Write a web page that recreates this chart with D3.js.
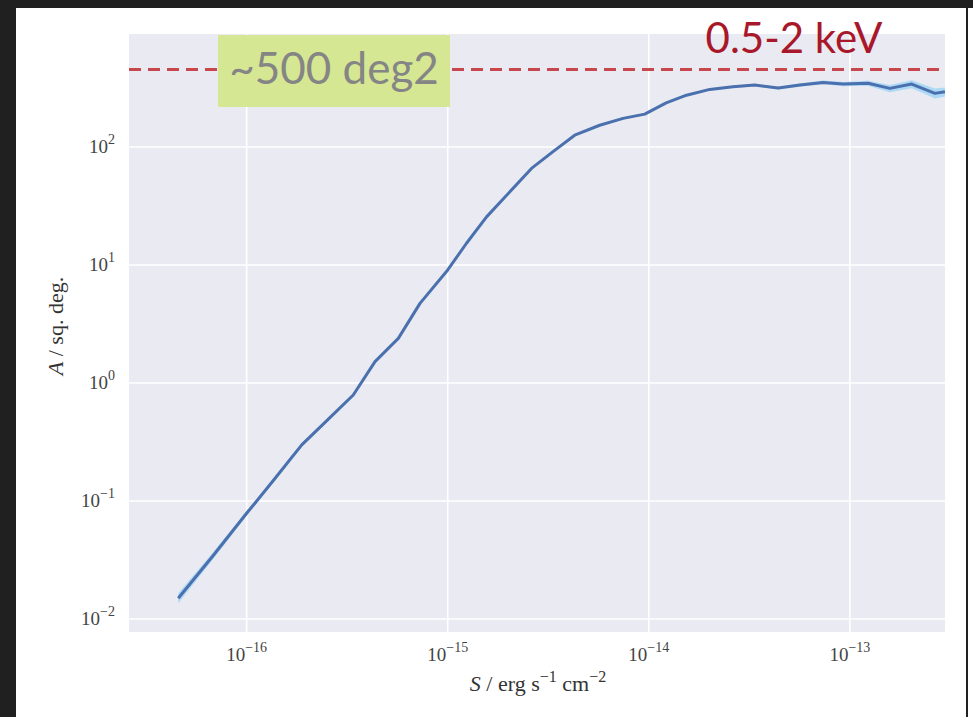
<!DOCTYPE html>
<html>
<head>
<meta charset="utf-8">
<script src="https://cdn.jsdelivr.net/npm/d3@7"></script>
<style>
  body { margin: 0; background: #ffffff; }
  svg { display: block; }
</style>
</head>
<body>
<div id="chart"></div>
<script>
// survey area vs limiting flux
let flux = [4.57e-17, 6.76e-17, 1.00e-16, 1.37e-16, 1.88e-16, 2.52e-16, 3.39e-16, 4.35e-16,
  5.68e-16, 7.28e-16, 1.00e-15, 1.24e-15, 1.56e-15, 2.61e-15, 3.34e-15, 4.28e-15, 5.70e-15,
  7.45e-15, 9.55e-15, 1.22e-14, 1.54e-14, 2.01e-14, 2.62e-14, 3.36e-14, 4.40e-14, 5.64e-14,
  7.36e-14, 9.27e-14, 1.23e-13, 1.58e-13, 2.03e-13, 2.65e-13, 2.97e-13]
let area = [0.0150, 0.0339, 0.0787, 0.152, 0.299, 0.485, 0.791, 1.52, 2.39, 4.73, 9.08, 15.3,
  25.6, 65.9, 91.5, 126, 153, 175, 190, 237, 275, 308, 324, 335, 316, 335, 353, 342, 347, 314,
  342, 285, 294]
let areaLo = [0.0136, 0.0316, 0.0750, 0.146, 0.289, 0.471, 0.771, 1.49, 2.34, 4.64, 8.93, 15.0,
  25.2, 65.0, 90.2, 124, 151, 172, 187, 233, 270, 302, 317, 327, 307, 325, 340, 328, 330, 292,
  315, 258, 268]
let areaHi = [0.0165, 0.0363, 0.0825, 0.158, 0.309, 0.499, 0.811, 1.55, 2.44, 4.82, 9.23, 15.6,
  26.0, 66.8, 92.8, 128, 155, 178, 193, 241, 280, 314, 331, 343, 325, 345, 366, 356, 364, 336,
  369, 313, 320]
let xTickExp = [-16, -15, -14, -13]
let yTickExp = [-2, -1, 0, 1, 2]
let fullSky = 455   // dashed reference line
let bandLabel = "0.5-2 keV"
let skyLabel = "~500 deg2"

let W = 973, H = 717
let plot = { left: 129, right: 945, top: 34, bottom: 632 }

let svg = d3.select("#chart").append("svg")
  .attr("width", W)
  .attr("height", H)

// dark frame of the slide screenshot
svg.append("rect").attr("x", 0).attr("y", 0).attr("width", W).attr("height", 8).attr("fill", "#202020")
svg.append("rect").attr("x", 0).attr("y", 0).attr("width", 16).attr("height", H).attr("fill", "#202020")
svg.append("rect").attr("x", 966).attr("y", 0).attr("width", 2).attr("height", H).attr("fill", "#202020")

let x = d3.scaleLog()
  .domain([Math.pow(10, -16.585), Math.pow(10, -12.527)])
  .range([plot.left, plot.right])
let y = d3.scaleLog()
  .domain([Math.pow(10, -2.11), Math.pow(10, 2.958)])
  .range([plot.bottom, plot.top])

svg.append("rect")
  .attr("x", plot.left).attr("y", plot.top)
  .attr("width", plot.right - plot.left).attr("height", plot.bottom - plot.top)
  .attr("fill", "#eaeaf2")

let xTicks = xTickExp.map(e => Math.pow(10, e))
let yTicks = yTickExp.map(e => Math.pow(10, e))

// grid
svg.append("g").selectAll("line").data(xTicks).enter().append("line")
  .attr("x1", d => x(d)).attr("x2", d => x(d))
  .attr("y1", plot.top).attr("y2", plot.bottom)
  .attr("stroke", "#ffffff").attr("stroke-width", 1.6)
svg.append("g").selectAll("line").data(yTicks).enter().append("line")
  .attr("x1", plot.left).attr("x2", plot.right)
  .attr("y1", d => y(d)).attr("y2", d => y(d))
  .attr("stroke", "#ffffff").attr("stroke-width", 1.6)

let pts = flux.map((f, i) => ({ f: f, a: area[i], lo: areaLo[i], hi: areaHi[i] }))

let band = d3.area()
  .x(d => x(d.f))
  .y0(d => y(d.lo))
  .y1(d => y(d.hi))
svg.append("path")
  .datum(pts)
  .attr("d", band)
  .attr("fill", "#a6d7f5")
  .attr("opacity", 0.9)

let line = d3.line()
  .x(d => x(d.f))
  .y(d => y(d.a))
svg.append("path")
  .datum(pts)
  .attr("d", line)
  .attr("fill", "none")
  .attr("stroke", "#4a70ae")
  .attr("stroke-width", 3)
  .attr("stroke-linejoin", "round")

// full area reference
svg.append("line")
  .attr("x1", plot.left).attr("x2", plot.right)
  .attr("y1", y(fullSky)).attr("y2", y(fullSky))
  .attr("stroke", "#c8474d")
  .attr("stroke-width", 3)
  .attr("stroke-dasharray", "12,7")

// tick labels, 10^n style
let serif = "'Liberation Serif', 'DejaVu Serif', serif"
let xl = svg.append("g").selectAll("text").data(xTickExp).enter().append("text")
  .attr("x", d => x(Math.pow(10, d)))
  .attr("y", 661)
  .attr("text-anchor", "middle")
  .attr("font-family", serif)
  .attr("font-size", 19)
  .attr("fill", "#444444")
xl.append("tspan").text("10")
xl.append("tspan").attr("dy", -9).attr("font-size", 14).text(d => "\u2212" + Math.abs(d))

let yl = svg.append("g").selectAll("text").data(yTickExp).enter().append("text")
  .attr("x", 115)
  .attr("y", d => y(Math.pow(10, d)) + 6)
  .attr("text-anchor", "end")
  .attr("font-family", serif)
  .attr("font-size", 19)
  .attr("fill", "#444444")
yl.append("tspan").text("10")
yl.append("tspan").attr("dy", -9).attr("font-size", 14)
  .text(d => d < 0 ? "\u2212" + Math.abs(d) : d)

// axis titles
let xt = svg.append("text")
  .attr("x", 538).attr("y", 691)
  .attr("text-anchor", "middle")
  .attr("font-family", serif)
  .attr("font-size", 22)
  .attr("fill", "#333333")
xt.append("tspan").attr("font-style", "italic").text("S")
xt.append("tspan").text(" / erg s")
xt.append("tspan").attr("dy", -9).attr("font-size", 16).text("\u22121")
xt.append("tspan").attr("dy", 9).text(" cm")
xt.append("tspan").attr("dy", -9).attr("font-size", 16).text("\u22122")

let yt = svg.append("text")
  .attr("transform", "translate(63,326) rotate(-90)")
  .attr("text-anchor", "middle")
  .attr("font-family", serif)
  .attr("font-size", 22)
  .attr("fill", "#333333")
yt.append("tspan").attr("font-style", "italic").text("A")
yt.append("tspan").text(" / sq. deg.")

// slide annotations
svg.append("rect")
  .attr("x", 218).attr("y", 35)
  .attr("width", 232).attr("height", 72)
  .attr("fill", "#d5e793")
svg.append("text")
  .attr("x", 334).attr("y", 84)
  .attr("text-anchor", "middle")
  .attr("font-family", "Lato, 'Noto Sans', sans-serif")
  .attr("font-size", 44)
  .attr("fill", "#858585")
  .text(skyLabel)

svg.append("text")
  .attr("x", 794).attr("y", 53)
  .attr("text-anchor", "middle")
  .attr("font-family", "Lato, 'Noto Sans', sans-serif")
  .attr("font-size", 42)
  .attr("fill", "#a8182a")
  .text(bandLabel)
</script>
</body>
</html>
